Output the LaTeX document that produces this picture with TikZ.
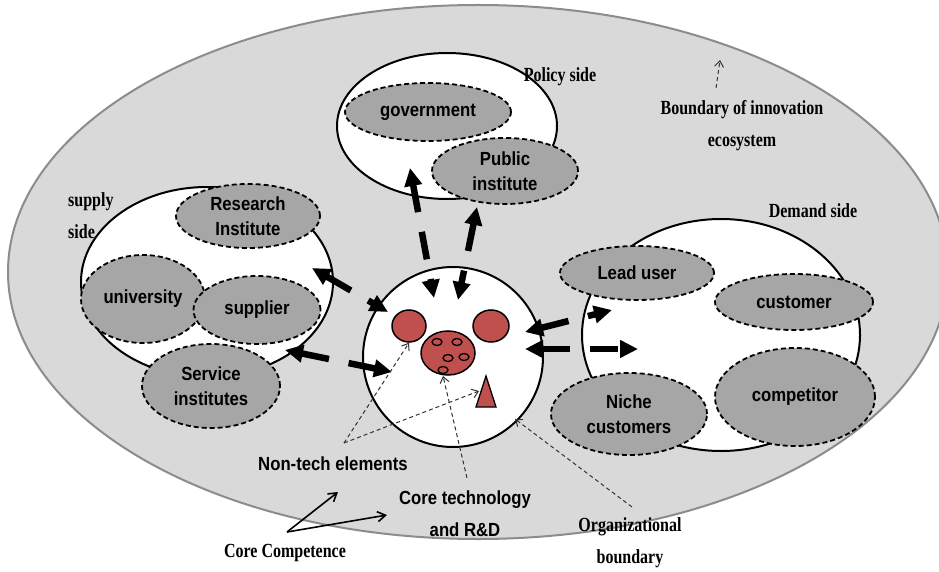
\documentclass[tikz,border=0pt]{standalone}
\usepackage{fontspec}
\setmainfont{Liberation Serif}
\newfontfamily\lblsans[FakeStretch=0.88]{Liberation Sans}
\newfontfamily\condserif[FakeStretch=0.8]{Liberation Serif}
\usetikzlibrary{shapes.geometric,arrows.meta}
\definecolor{eco}{HTML}{D9D9D9}
\definecolor{ecoborder}{HTML}{8C8C8C}
\definecolor{actorfill}{HTML}{A6A6A6}
\definecolor{corered}{HTML}{C0504D}
\definecolor{thinline}{HTML}{333333}
\tikzset{
  region/.style={ellipse, draw=black, line width=2pt, fill=white, inner sep=0pt},
  actor/.style={ellipse, draw=black, line width=1.8pt, dash pattern=on 5pt off 3pt,
    fill=actorfill, inner sep=0pt, align=center,
    font=\lblsans\bfseries\fontsize{19}{25}\selectfont},
  serifnote/.style={inner sep=0pt, align=center, font=\condserif\bfseries\fontsize{20}{32}\selectfont},
  sansnote/.style={inner sep=0pt, align=center, font=\lblsans\bfseries\fontsize{19}{32}\selectfont},
  redblob/.style={ellipse, draw=black, line width=1.5pt, fill=corered, inner sep=0pt},
  flow/.style={line width=6.5pt, dash pattern=on 28pt off 20pt,
    {Triangle[length=18pt,width=17pt]}-{Triangle[length=18pt,width=17pt]}},
  pointer/.style={draw=thinline, line width=1pt, dash pattern=on 4pt off 3pt,
    -{Straight Barb[length=6pt,width=9pt]}},
  compet/.style={line width=1.6pt, -{Straight Barb[length=8pt,width=10pt]}}
}
\begin{document}
\begin{tikzpicture}[x=1pt,y=-1pt]
\useasboundingbox (0,0) rectangle (939,572);
% ecosystem
\node[ellipse, draw=ecoborder, line width=2pt, fill=eco, minimum width=940pt, minimum height=534pt, inner sep=0pt] (eco) at (478,272) {};
% regions
\node[region, minimum width=220pt, minimum height=146pt] (policy) at (447,126) {};
\node[region, minimum width=252pt, minimum height=190pt] (supply) at (207,282) {};
\node[region, minimum width=278pt, minimum height=232pt] (demand) at (721,335) {};
% actors
\node[actor, minimum width=166pt, minimum height=58pt] (gov) at (428,112) {government};
\node[actor, minimum width=146pt, minimum height=66pt] (pub) at (505,171) {Public\\institute};
\node[actor, minimum width=144pt, minimum height=64pt] (res) at (248,216) {Research\\Institute};
\node[actor, minimum width=124pt, minimum height=88pt] (uni) at (143,299) {university};
\node[actor, minimum width=127pt, minimum height=68pt] (sup) at (257,310) {supplier};
\node[actor, minimum width=138pt, minimum height=84pt] (serv) at (211,386) {Service\\institutes};
\node[actor, minimum width=154pt, minimum height=54pt] (lead) at (637,273) {Lead user};
\node[actor, minimum width=158pt, minimum height=56pt] (cust) at (794,302) {customer};
\node[actor, minimum width=160pt, minimum height=98pt] (comp) at (795,397) {competitor};
\node[actor, minimum width=156pt, minimum height=82pt] (niche) at (629,414) {Niche\\customers};
% firm
\node[circle, draw=black, line width=2pt, fill=white, minimum size=180pt, inner sep=0pt] (firm) at (453,357) {};
\node[redblob, minimum width=34pt, minimum height=32pt] (ntl) at (409,326) {};
\node[redblob, minimum width=36pt, minimum height=32pt] (ntr) at (491,326) {};
\node[redblob, minimum width=54pt, minimum height=44pt] (core) at (448,353) {};
\foreach \px/\py in {437/342, 457/342, 448/358, 464/357, 443/370}
  \draw[line width=1.3pt] (\px,\py) ellipse (5pt and 3.5pt);
\draw[line width=1.3pt, fill=corered] (486,376) -- (496,407) -- (476,407) -- cycle;
\coordinate (tri) at (479,391);
% labels
\node[serifnote] (policylbl) at (560,77) {Policy side};
\node[serifnote] (demandlbl) at (813,211) {Demand side};
\node[serifnote, align=left, anchor=west] (supplylbl) at (68,216) {supply\\side};
\node[serifnote] (boundlbl) at (742,126) {Boundary of innovation\\ecosystem};
\node[serifnote] (orglbl) at (630,543) {Organizational\\boundary};
\node[serifnote] (complbl) at (285,553) {Core Competence};
\node[sansnote] (ntlbl) at (333,464) {Non-tech elements};
\node[sansnote] (ctlbl) at (465,514) {Core technology\\and R\&D};
% flow arrow end points
\coordinate (a1) at (410,168); \coordinate (a2) at (434,298);
\coordinate (b1) at (477,207); \coordinate (b2) at (458,300);
\coordinate (c1) at (312,268); \coordinate (c2) at (388,312);
\coordinate (d1) at (285,350); \coordinate (d2) at (392,372);
\coordinate (e1) at (525,332); \coordinate (e2) at (612,310);
\coordinate (f1) at (525,349); \coordinate (f2) at (638,349);
\foreach \s/\t in {a1/a2, b1/b2, c1/c2, d1/d2, e1/e2, f1/f2}
  \draw[flow] (\s) -- (\t);
% pointers
\coordinate (ntpt) at (344,443);
\draw[pointer] (ntpt) -- (ntl.south);
\draw[pointer] (ntpt) -- (tri);
\coordinate (ctpt) at (467,478);
\draw[pointer] (ctpt) -- (443,376);
\coordinate (orgpt) at (632,507);
\draw[pointer] (orgpt) -- (515,419);
\coordinate (bpt) at (716,88);
\draw[pointer] (bpt) -- (720,60);
% core competence
\coordinate (ccpt) at (287,532);
\draw[compet] (ccpt) -- (338,492);
\draw[compet] (ccpt) -- (387,515);
\end{tikzpicture}
\end{document}
